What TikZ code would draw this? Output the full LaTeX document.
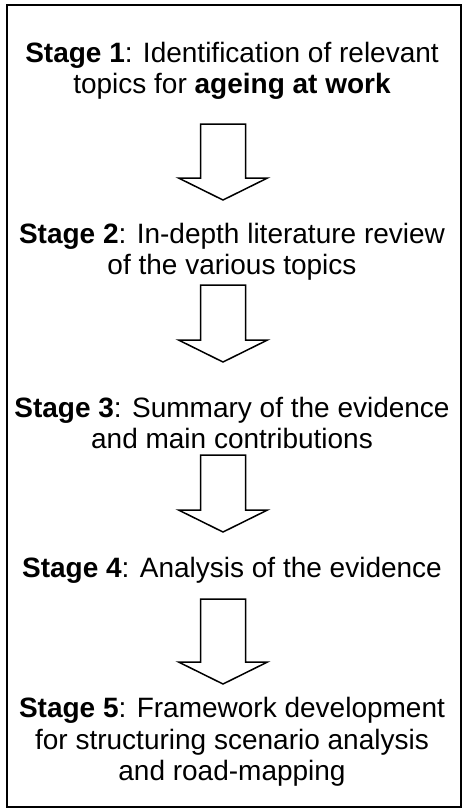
\documentclass[tikz,border=0pt]{standalone}
\usepackage{fontspec}
\setmainfont{Liberation Sans}
\usetikzlibrary{calc}
\tikzset{
  stagetext/.style={align=center, inner sep=0pt, font=\fontsize{28}{31.5}\selectfont},
  blockarrow/.style={draw=black, line width=1.5pt, fill=white, line join=miter},
  frame/.style={draw=black, line width=2pt}
}
% hollow block arrow from a top coordinate down to a tip coordinate
\newcommand{\blockarrow}[2]{%
  \draw[blockarrow] ($(#1)+(-22.5,0)$) -- ($(#1)+(22.5,0)$) -- ($(#2)+(22.5,-22)$)
    -- ($(#2)+(44.5,-22)$) -- (#2) -- ($(#2)+(-44.5,-22)$) -- ($(#2)+(-22.5,-22)$) -- cycle;}
\begin{document}
\begin{tikzpicture}[x=1pt,y=-1pt]
  \useasboundingbox (0,0) rectangle (465,812);
  \draw[frame] (7,5) rectangle (461,807);

  \node[stagetext] (s1) at (232,71) {\textbf{Stage 1}: Identification of relevant\\topics for \textbf{ageing at work}};
  \node[stagetext] (s2) at (232,252) {\textbf{Stage 2}: In-depth literature review\\of the various topics};
  \node[stagetext] (s3) at (232,423) {\textbf{Stage 3}: Summary of the evidence\\and main contributions};
  \node[stagetext] (s4) at (232,570) {\textbf{Stage 4}: Analysis of the evidence};
  \node[stagetext] (s5) at (232,742) {\textbf{Stage 5}: Framework development\\for structuring scenario analysis\\and road-mapping};

  \coordinate (a1t) at (223,124);  \coordinate (a1h) at (223,200);
  \coordinate (a2t) at (223,285);  \coordinate (a2h) at (223,362);
  \coordinate (a3t) at (223,455);  \coordinate (a3h) at (223,532);
  \coordinate (a4t) at (223,599);  \coordinate (a4h) at (223,684);

  \blockarrow{a1t}{a1h}
  \blockarrow{a2t}{a2h}
  \blockarrow{a3t}{a3h}
  \blockarrow{a4t}{a4h}
\end{tikzpicture}
\end{document}
